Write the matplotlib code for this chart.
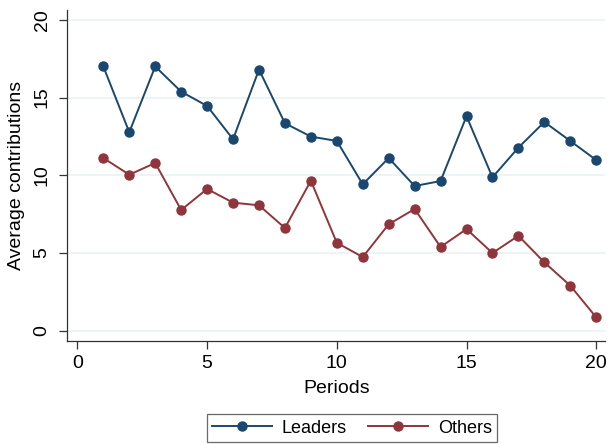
import matplotlib.pyplot as plt
import numpy as np

plt.rcParams["font.family"] = ["Liberation Sans", "DejaVu Sans"]

periods = np.arange(1, 21)
leaders = [17.0, 12.77, 17.0, 15.38, 14.46, 12.32, 16.8, 13.35, 12.49, 12.21,
           9.42, 11.11, 9.31, 9.63, 13.8, 9.87, 11.78, 13.43, 12.21, 10.98]
others = [11.11, 10.04, 10.79, 7.77, 9.12, 8.24, 8.07, 6.61, 9.65, 5.66,
          4.74, 6.85, 7.83, 5.39, 6.54, 5.0, 6.11, 4.40, 2.90, 0.86]

NAVY = "#1a476f"
MAROON = "#90353b"
GRID = "#eaf2f3"
SPINE = "#333333"

fig = plt.figure(figsize=(6.1, 4.44), dpi=100)
ax = fig.add_axes([0.1103, 0.2327, 0.882, 0.745])

ax.plot(periods, leaders, color=NAVY, marker="o", markersize=6.5, linewidth=1.4, label="Leaders")
ax.plot(periods, others, color=MAROON, marker="o", markersize=6.5, linewidth=1.4, label="Others")

ax.set_xlim(-0.39, 20.35)
ax.set_ylim(-0.64, 20.64)
ax.set_xticks([0, 5, 10, 15, 20])
ax.set_yticks([0, 5, 10, 15, 20])
ax.yaxis.grid(True, color=GRID, linewidth=1.2)
ax.set_axisbelow(True)

for side in ["top", "right"]:
    ax.spines[side].set_visible(False)
for side in ["left", "bottom"]:
    ax.spines[side].set_color(SPINE)
    ax.spines[side].set_linewidth(0.9)

ax.tick_params(axis="both", direction="out", length=6, width=0.9, color=SPINE, labelsize=14)
ax.tick_params(axis="x", pad=4)
ax.tick_params(axis="y", pad=6)
for lab in ax.get_yticklabels():
    lab.set_rotation(90)
    lab.set_va("center")

ax.set_xlabel("Periods", fontsize=14, labelpad=6)
ax.set_ylabel("Average contributions", fontsize=14, labelpad=6)

leg = fig.legend(loc="lower center", bbox_to_anchor=(0.577, 0.0), ncol=2, fontsize=13,
                 frameon=True, fancybox=False, edgecolor="#444444",
                 handlelength=3.3, columnspacing=1.2, borderpad=0.3,
                 handletextpad=0.55, borderaxespad=0.1)
leg.get_frame().set_linewidth(0.9)

fig.savefig("out.png", dpi=100)
